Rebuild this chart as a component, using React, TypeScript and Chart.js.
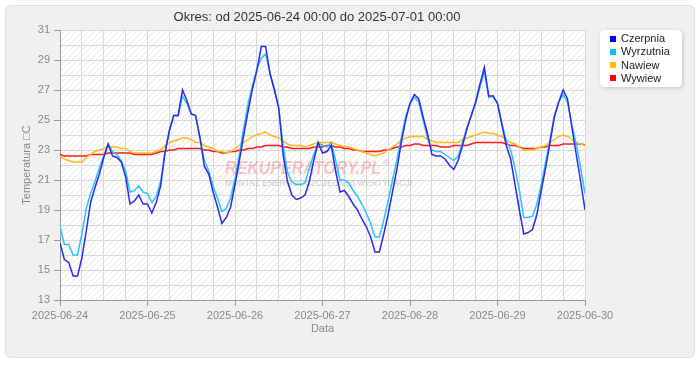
import React, { useEffect, useRef } from "react";
import { Chart, registerables } from "chart.js";

Chart.register(...registerables);

const TITLE = "Okres: od 2025-06-24 00:00 do 2025-07-01 00:00";
const DAY_LABELS = ["2025-06-24", "2025-06-25", "2025-06-26", "2025-06-27", "2025-06-28", "2025-06-29", "2025-06-30"];
const SAMPLE_STEP_H = 1.2;
const SERIES_NAMES = ["Czerpnia", "Wyrzutnia", "Nawiew", "Wywiew"];

const CZERPNIA = [
  16.8, 15.7, 15.5, 14.6, 14.6, 15.8, 17.6, 19.5, 20.5, 21.4,
  22.5, 23.4, 22.6, 22.5, 22.2, 21.2, 19.4, 19.6, 20.0, 19.4,
  19.4, 18.8, 19.5, 20.6, 22.8, 24.3, 25.3, 25.3, 27.0, 26.3, 25.4,
  25.3, 23.8, 21.9, 21.4, 20.2, 19.2, 18.1, 18.5, 19.2, 20.7,
  22.3, 24.0, 25.6, 27.1, 28.3, 29.9, 29.9, 28.1, 27.0, 25.8,
  22.7, 20.9, 20.0, 19.7, 19.8, 20.0, 20.9, 22.3, 23.5, 22.8,
  22.9, 23.3, 21.6, 20.2, 20.3, 19.9, 19.4, 19.0, 18.4, 17.9,
  17.2, 16.2, 16.2, 17.4, 18.7, 20.2, 21.7, 23.5, 25.0, 26.1,
  26.7, 26.4, 25.2, 24.1, 22.7, 22.6, 22.6, 22.4, 22.0, 21.7,
  22.3, 23.3, 24.4, 25.3, 26.2, 27.4, 28.5, 26.6, 26.6, 26.1,
  24.7, 23.3, 22.4, 20.7, 19.0, 17.4, 17.5, 17.7, 18.7, 20.3,
  21.8, 23.5, 25.2, 26.2, 27.0, 26.4, 24.5, 22.7, 20.9, 19.0,
];

const WYRZUTNIA = [
  17.9, 16.7, 16.7, 16.0, 16.0, 17.4, 19.1, 20.1, 20.9, 21.8,
  22.6, 23.4, 22.9, 22.7, 22.3, 21.6, 20.2, 20.3, 20.6, 20.2,
  20.1, 19.5, 19.9, 20.9, 22.9, 24.3, 25.3, 25.3, 26.6, 26.1, 25.4,
  25.3, 23.8, 22.3, 21.6, 20.6, 19.8, 18.9, 19.1, 19.8, 21.1,
  22.7, 24.5, 26.1, 27.3, 28.4, 29.1, 29.4, 28.1, 27.1, 25.8,
  23.3, 21.5, 20.9, 20.7, 20.7, 20.8, 21.8, 22.7, 23.5, 23.3,
  23.2, 23.5, 22.3, 21.0, 21.0, 20.8, 20.3, 19.9, 19.4, 18.8,
  18.1, 17.2, 17.2, 18.3, 19.6, 21.0, 22.3, 23.8, 25.2, 26.1,
  26.5, 26.2, 25.0, 23.8, 23.0, 22.9, 22.9, 22.7, 22.5, 22.3,
  22.6, 23.5, 24.5, 25.3, 26.1, 27.2, 28.2, 26.5, 26.6, 26.1,
  24.8, 23.6, 23.0, 21.8, 20.3, 18.5, 18.5, 18.6, 19.4, 20.7,
  22.2, 23.7, 25.3, 26.2, 26.7, 26.2, 24.7, 23.4, 21.8, 20.1,
];

const NAWIEW = [
  22.6, 22.4, 22.3, 22.2, 22.2, 22.2, 22.5, 22.7, 22.9, 23.0,
  23.1, 23.2, 23.2, 23.2, 23.1, 23.1, 22.9, 22.8, 22.8, 22.8,
  22.8, 22.8, 22.9, 23.0, 23.3, 23.5, 23.6, 23.7, 23.8, 23.8, 23.7,
  23.5, 23.5, 23.3, 23.2, 23.1, 22.9, 22.9, 22.8, 22.9, 23.1,
  23.3, 23.5, 23.7, 23.9, 24.0, 24.1, 24.2, 24.0, 23.9, 23.8,
  23.6, 23.4, 23.3, 23.3, 23.3, 23.2, 23.3, 23.4, 23.5, 23.5,
  23.5, 23.5, 23.4, 23.3, 23.2, 23.2, 23.1, 23.0, 22.9, 22.8,
  22.7, 22.6, 22.7, 22.8, 23.0, 23.2, 23.4, 23.6, 23.8, 23.9,
  23.9, 23.9, 23.9, 23.7, 23.6, 23.5, 23.5, 23.5, 23.5, 23.5,
  23.5, 23.7, 23.8, 23.9, 24.0, 24.1, 24.2, 24.1, 24.1, 24.0,
  23.9, 23.7, 23.5, 23.4, 23.2, 23.0, 23.0, 23.0, 23.1, 23.2,
  23.3, 23.5, 23.7, 23.9, 24.0, 23.9, 23.7, 23.5, 23.4, 23.3,
];

const WYWIEW = [
  22.7, 22.6, 22.6, 22.6, 22.6, 22.6, 22.6, 22.7, 22.7, 22.7,
  22.7, 22.8, 22.8, 22.8, 22.8, 22.8, 22.8, 22.7, 22.7, 22.7,
  22.7, 22.7, 22.8, 22.9, 22.9, 23.0, 23.0, 23.1, 23.1, 23.1, 23.1,
  23.1, 23.1, 23.0, 23.0, 22.9, 22.9, 22.8, 22.8, 22.9, 22.9,
  23.0, 23.0, 23.1, 23.1, 23.2, 23.2, 23.3, 23.3, 23.3, 23.3,
  23.2, 23.2, 23.1, 23.1, 23.1, 23.1, 23.1, 23.2, 23.2, 23.2,
  23.3, 23.3, 23.2, 23.2, 23.1, 23.1, 23.0, 23.0, 22.9, 22.9,
  22.9, 22.9, 22.9, 23.0, 23.0, 23.1, 23.2, 23.2, 23.3, 23.3,
  23.4, 23.4, 23.3, 23.3, 23.3, 23.3, 23.2, 23.2, 23.2, 23.3,
  23.3, 23.3, 23.3, 23.4, 23.5, 23.5, 23.5, 23.5, 23.5, 23.5,
  23.5, 23.4, 23.3, 23.3, 23.2, 23.1, 23.1, 23.1, 23.1, 23.2,
  23.2, 23.3, 23.3, 23.3, 23.4, 23.4, 23.4, 23.4, 23.4, 23.35,
];

const SERIES_VALUES = [CZERPNIA, WYRZUTNIA, NAWIEW, WYWIEW];
const LINE_COLORS = ["#2b2bea", "#2ec4f6", "#ffb91a", "#ff1a1a"];
const LEGEND_COLORS = ["#0000ff", "#00bfff", "#ffbf00", "#ff0000"];

const FONT = "'Liberation Sans', Arial, sans-serif";

function roundRect(ctx: CanvasRenderingContext2D, x: number, y: number, w: number, h: number, r: number) {
  ctx.beginPath();
  ctx.moveTo(x + r, y);
  ctx.lineTo(x + w - r, y);
  ctx.quadraticCurveTo(x + w, y, x + w, y + r);
  ctx.lineTo(x + w, y + h - r);
  ctx.quadraticCurveTo(x + w, y + h, x + w - r, y + h);
  ctx.lineTo(x + r, y + h);
  ctx.quadraticCurveTo(x, y + h, x, y + h - r);
  ctx.lineTo(x, y + r);
  ctx.quadraticCurveTo(x, y, x + r, y);
  ctx.closePath();
}

const backgroundPlugin = {
  id: "panelBackground",
  beforeDraw(chart: any) {
    const { ctx, width, height, chartArea } = chart;
    ctx.save();
    ctx.fillStyle = "#ffffff";
    ctx.fillRect(0, 0, width, height);
    roundRect(ctx, 5.5, 5.5, 689, 352, 6);
    ctx.fillStyle = "#f0f0f0";
    ctx.fill();
    ctx.strokeStyle = "#e0e0e0";
    ctx.lineWidth = 1;
    ctx.stroke();
    ctx.fillStyle = "#ffffff";
    ctx.fillRect(chartArea.left, chartArea.top, chartArea.right - chartArea.left, chartArea.bottom - chartArea.top);
    const p = document.createElement("canvas");
    p.width = 6;
    p.height = 6;
    const pc = p.getContext("2d")!;
    pc.strokeStyle = "#e8e8e8";
    pc.lineWidth = 1;
    pc.beginPath();
    pc.moveTo(0, 6);
    pc.lineTo(6, 0);
    pc.moveTo(-1, 1);
    pc.lineTo(1, -1);
    pc.moveTo(5, 7);
    pc.lineTo(7, 5);
    pc.stroke();
    const pattern = ctx.createPattern(p, "repeat");
    if (pattern) {
      ctx.fillStyle = pattern;
      ctx.fillRect(chartArea.left, chartArea.top, chartArea.right - chartArea.left, chartArea.bottom - chartArea.top);
    }
    ctx.restore();
  },
};

const watermarkPlugin = {
  id: "watermark",
  beforeDatasetsDraw(chart: any) {
    const { ctx } = chart;
    ctx.save();
    ctx.textBaseline = "middle";
    ctx.textAlign = "left";
    ctx.font = `italic bold 18px ${FONT}`;
    const main = "REKUPERATORY.PL";
    const mw = ctx.measureText(main).width;
    ctx.translate(225, 169);
    ctx.scale(156 / mw, 1);
    ctx.fillStyle = "rgba(232, 70, 80, 0.3)";
    ctx.fillText(main, 0, 0);
    ctx.restore();
    ctx.save();
    ctx.font = `bold 8px ${FONT}`;
    ctx.fillStyle = "rgba(232, 70, 80, 0.3)";
    ctx.textBaseline = "middle";
    ctx.fillText("®", 383, 163);
    ctx.font = `bold 9px ${FONT}`;
    const sub = "MONTAŻ ENERGOOSZCZĘDNEJ WENTYLACJI";
    const sw = ctx.measureText(sub).width;
    ctx.translate(225, 184);
    ctx.scale(187 / sw, 1);
    ctx.fillStyle = "rgba(140, 140, 140, 0.32)";
    ctx.fillText(sub, 0, 0);
    ctx.restore();
  },
};

const titleLegendPlugin = {
  id: "titleLegend",
  afterDraw(chart: any) {
    const { ctx } = chart;
    ctx.save();
    ctx.font = `13px ${FONT}`;
    ctx.fillStyle = "#333333";
    ctx.textAlign = "center";
    ctx.textBaseline = "middle";
    ctx.fillText(TITLE, 317, 17);

    ctx.save();
    ctx.shadowColor = "rgba(0,0,0,0.18)";
    ctx.shadowBlur = 4;
    ctx.shadowOffsetX = 1;
    ctx.shadowOffsetY = 1;
    roundRect(ctx, 600, 30, 82, 57, 5);
    ctx.fillStyle = "#ffffff";
    ctx.fill();
    ctx.restore();

    ctx.font = `11px ${FONT}`;
    ctx.textAlign = "left";
    ctx.textBaseline = "middle";
    chart.data.datasets.forEach((ds: any, i: number) => {
      const y = 38.5 + i * 13.3;
      ctx.fillStyle = LEGEND_COLORS[i];
      ctx.fillRect(610, Math.round(y - 3), 6, 6);
      ctx.fillStyle = "#222222";
      ctx.fillText(ds.label, 621, y + 0.5);
    });
    ctx.restore();
  },
};

export default function App() {
  const canvasRef = useRef<HTMLCanvasElement | null>(null);

  useEffect(() => {
    if (!canvasRef.current) return;
    const datasets = SERIES_NAMES.map((name, si) => ({
      label: name,
      data: SERIES_VALUES[si].map((v, i) => ({ x: i * SAMPLE_STEP_H, y: v })),
      borderColor: LINE_COLORS[si],
      backgroundColor: LINE_COLORS[si],
      borderWidth: 1.5,
      pointRadius: 0,
      tension: 0,
      fill: false,
    }));

    const chart = new Chart(canvasRef.current, {
      type: "line",
      data: { datasets },
      options: {
        animation: false,
        responsive: false,
        maintainAspectRatio: false,
        layout: { padding: { left: 8, right: 115, top: 30, bottom: 40 } },
        plugins: {
          legend: { display: false },
          title: { display: false },
          tooltip: { enabled: false },
        },
        scales: {
          x: {
            type: "linear",
            min: 0,
            max: 144,
            afterFit: (scale: any) => {
              scale.height = 40;
            },
            ticks: {
              stepSize: 6,
              autoSkip: false,
              maxRotation: 0,
              minRotation: 0,
              padding: 3,
              color: "#888888",
              font: { family: FONT, size: 11 },
              callback: (value: any) => {
                const v = Number(value);
                return v % 24 === 0 ? DAY_LABELS[v / 24] ?? "" : "";
              },
            },
            grid: {
              color: "#d9d9d9",
              lineWidth: 1,
              tickLength: 6,
              tickColor: (ctx: any) => (ctx.tick && ctx.tick.value % 24 === 0 ? "#999999" : "rgba(0,0,0,0)"),
            },
            border: { color: "#999999", width: 1 },
            title: {
              display: true,
              text: "Data",
              color: "#888888",
              font: { family: FONT, size: 11 },
              padding: { top: 0, bottom: 4 },
            },
          },
          y: {
            type: "linear",
            min: 13,
            max: 31,
            afterFit: (scale: any) => {
              scale.width = 52;
            },
            ticks: {
              stepSize: 1,
              autoSkip: false,
              padding: 4,
              color: "#888888",
              font: { family: FONT, size: 11 },
              callback: (value: any) => {
                const v = Number(value);
                return (v - 13) % 2 === 0 ? String(v) : "";
              },
            },
            grid: {
              color: "#d9d9d9",
              lineWidth: 1,
              tickLength: 6,
              tickColor: (ctx: any) => (ctx.tick && (ctx.tick.value - 13) % 2 === 0 ? "#999999" : "rgba(0,0,0,0)"),
            },
            border: { color: "#999999", width: 1 },
            title: {
              display: true,
              text: "Temperatura \u25A1C",
              color: "#888888",
              font: { family: FONT, size: 11 },
              padding: { top: 12, bottom: 0 },
            },
          },
        },
      },
      plugins: [backgroundPlugin, watermarkPlugin, titleLegendPlugin],
    } as any);

    return () => {
      chart.destroy();
    };
  }, []);

  return (
    <div style={{ position: "absolute", left: 0, top: 0, width: 700, height: 380 }}>
      <canvas ref={canvasRef} width={700} height={380} style={{ display: "block", width: 700, height: 380 }} />
    </div>
  );
}
